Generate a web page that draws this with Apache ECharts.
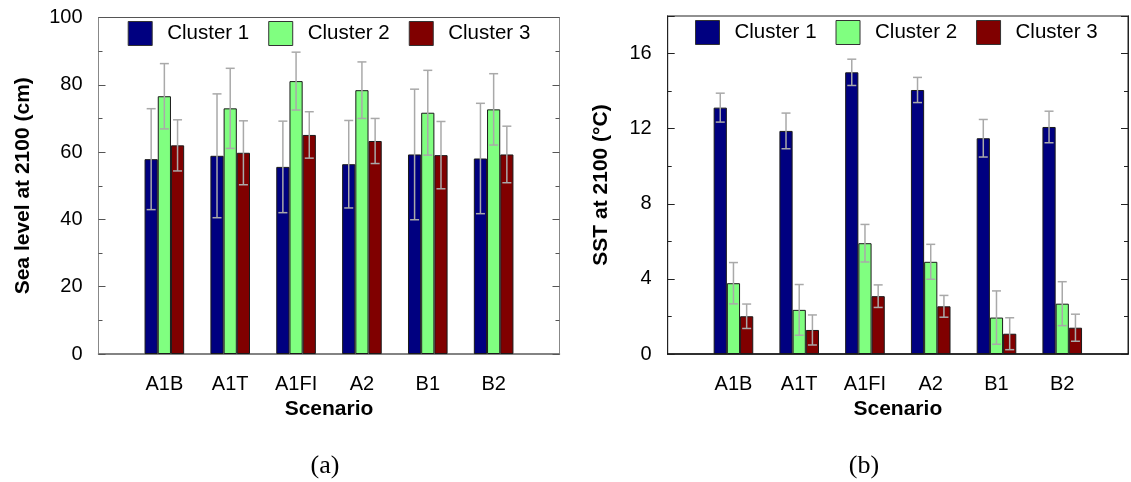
<!DOCTYPE html>
<html><head><meta charset="utf-8">
<script src="https://cdn.jsdelivr.net/npm/echarts@6/dist/echarts.min.js"></script>
<style>html,body{margin:0;padding:0;background:#fff}#c{width:1131px;height:482px}</style>
</head><body><div id="c"></div>
<script>
// ---------- data ----------
const scenarios = ['A1B', 'A1T', 'A1FI', 'A2', 'B1', 'B2'];
const clusterNames = ['Cluster 1', 'Cluster 2', 'Cluster 3'];

const seaLevelMean1 = [57.9, 58.9, 55.6, 56.4, 59.3, 58.1];
const seaLevelErr1  = [15.0, 18.4, 13.6, 13.0, 19.4, 16.4];
const seaLevelMean2 = [76.6, 73.0, 81.1, 78.4, 71.7, 72.7];
const seaLevelErr2  = [9.7, 11.9, 8.6, 8.4, 12.6, 10.6];
const seaLevelMean3 = [62.0, 59.8, 65.1, 63.3, 59.1, 59.3];
const seaLevelErr3  = [7.6, 9.5, 6.9, 6.7, 10.0, 8.4];

const sstMean1 = [13.12, 11.88, 15.0, 14.06, 11.49, 12.09];
const sstErr1  = [0.77, 0.95, 0.7, 0.67, 1.0, 0.84];
const sstMean2 = [3.77, 2.35, 5.9, 4.91, 1.94, 2.68];
const sstErr2  = [1.1, 1.35, 1.0, 0.93, 1.42, 1.17];
const sstMean3 = [2.01, 1.28, 3.08, 2.54, 1.08, 1.40];
const sstErr3  = [0.65, 0.8, 0.6, 0.58, 0.85, 0.72];

const seaLevelTicks = [0, 20, 40, 60, 80, 100];
const sstTicks = [0, 4, 8, 12, 16];

// ---------- styles ----------
const clusterColors = ['#000080', '#80FF80', '#800000'];
const BAR_W = 13.2;
const FONT = '"Liberation Sans", Arial, sans-serif';

const paddedCats = [''].concat(scenarios).concat(['']);
const pad = arr => ['-'].concat(arr).concat(['-']);

function errRender(offset) {
  return function (params, api) {
    const idx = api.value(0);
    const x = api.coord([idx, 0])[0] + offset;
    const lo = api.coord([idx, api.value(1)])[1];
    const hi = api.coord([idx, api.value(2)])[1];
    const cap = 4.5;
    const style = { stroke: '#a9a9a9', lineWidth: 1.5 };
    return {
      type: 'group',
      children: [
        { type: 'line', shape: { x1: x, y1: lo, x2: x, y2: hi }, style: style },
        { type: 'line', shape: { x1: x - cap, y1: hi, x2: x + cap, y2: hi }, style: style },
        { type: 'line', shape: { x1: x - cap, y1: lo, x2: x + cap, y2: lo }, style: style }
      ]
    };
  };
}

function errData(means, errs) {
  return means.map((m, i) => [i + 1, m - errs[i], m + errs[i]]);
}

function makeSeries(panel, means, errs, yIdx) {
  const out = [];
  means.forEach((m, k) => {
    out.push({
      name: clusterNames[k], type: 'bar', xAxisIndex: panel, yAxisIndex: yIdx,
      data: pad(m), barWidth: BAR_W, barGap: '0%',
      itemStyle: { color: clusterColors[k], borderColor: '#1a1a1a', borderWidth: 1 },
      emphasis: { disabled: true }, animation: false
    });
  });
  means.forEach((m, k) => {
    out.push({
      name: 'err' + panel + '-' + k, type: 'custom', xAxisIndex: panel, yAxisIndex: yIdx,
      renderItem: errRender((k - 1) * BAR_W),
      encode: { x: 0, y: [1, 2] },
      data: errData(m, errs[k]), z: 5, animation: false, silent: true
    });
  });
  return out;
}

function yAx(grid, pos, max, interval, tickLen, showLabel, lineColor, tickColor, extra) {
  return Object.assign({
    gridIndex: grid, type: 'value', position: pos, min: 0, max: max, interval: interval,
    axisLine: { show: true, lineStyle: { color: lineColor, width: 1 } },
    axisTick: { show: true, inside: true, length: tickLen, lineStyle: { color: tickColor, width: 1 } },
    splitLine: { show: false },
    axisLabel: { show: showLabel, margin: 16, fontSize: 20, color: '#000', fontFamily: FONT }
  }, extra || {});
}

function xAx(grid, lineColor) {
  return {
    gridIndex: grid, type: 'category', data: paddedCats, boundaryGap: false,
    axisLine: { show: true, lineStyle: { color: lineColor, width: 1.5 } },
    axisTick: { show: false },
    axisLabel: { margin: 20, fontSize: 20, color: '#000', fontFamily: FONT, interval: 0 },
    splitLine: { show: false },
    name: 'Scenario', nameLocation: 'middle', nameGap: 43,
    nameTextStyle: { fontSize: 21, fontWeight: 'bold', color: '#000', fontFamily: FONT }
  };
}

const chart = echarts.init(document.getElementById('c'), null, { renderer: 'canvas' });

const series = []
  .concat(makeSeries(0, [seaLevelMean1, seaLevelMean2, seaLevelMean3], [seaLevelErr1, seaLevelErr2, seaLevelErr3], 0))
  .concat(makeSeries(1, [sstMean1, sstMean2, sstMean3], [sstErr1, sstErr2, sstErr3], 2));

const option = {
  backgroundColor: '#fff',
  animation: false,
  textStyle: { fontFamily: FONT },
  grid: [
    { left: 98.5, top: 17.5, width: 461, height: 336.5, show: true, borderColor: '#555', borderWidth: 1, backgroundColor: 'transparent' },
    { left: 667.7, top: 16, width: 461.6, height: 338, show: true, borderColor: '#222', borderWidth: 1, backgroundColor: 'transparent' }
  ],
  xAxis: [xAx(0, '#777'), xAx(1, '#111')],
  yAxis: [
    yAx(0, 'left', seaLevelTicks[seaLevelTicks.length - 1], seaLevelTicks[1] - seaLevelTicks[0], 7, true, '#888', '#555', {
      minorTick: { show: true, splitNumber: 2, length: 4, lineStyle: { color: '#555' } },
      name: 'Sea level at 2100 (cm)', nameLocation: 'middle', nameGap: 65,
      nameTextStyle: { fontSize: 21, fontWeight: 'bold', color: '#000', fontFamily: FONT }
    }),
    yAx(0, 'right', seaLevelTicks[seaLevelTicks.length - 1], seaLevelTicks[1] - seaLevelTicks[0], 7, false, '#888', '#555', {
      minorTick: { show: true, splitNumber: 2, length: 4, lineStyle: { color: '#555' } }
    }),
    yAx(1, 'left', 18, sstTicks[1] - sstTicks[0], 7, true, '#222', '#222', {
      axisLabel: { show: true, margin: 16, fontSize: 20, color: '#000', fontFamily: FONT,
        formatter: v => (sstTicks.indexOf(v) >= 0 ? String(v) : '') },
      name: 'SST at 2100 (°C)', nameLocation: 'middle', nameGap: 56,
      nameTextStyle: { fontSize: 21, fontWeight: 'bold', color: '#000', fontFamily: FONT }
    }),
    yAx(1, 'left', 18, 2, 4, false, '#222', '#222'),
    yAx(1, 'right', 18, sstTicks[1] - sstTicks[0], 7, false, '#222', '#222'),
    yAx(1, 'right', 18, 2, 4, false, '#222', '#222')
  ],
  legend: [0, 1].map(p => ({
    data: clusterNames, selectedMode: false, icon: 'rect',
    left: p === 0 ? 127.7 : 695, top: p === 0 ? 21 : 20, padding: 0,
    itemWidth: 24, itemHeight: 24, itemGap: 19,
    itemStyle: { borderColor: '#333', borderWidth: 1 },
    textStyle: { fontSize: 20.5, color: '#000', fontFamily: FONT, padding: [0, 0, 0, 10] }
  })),
  graphic: [
    { type: 'text', x: 325, y: 466, style: { text: '(a)', align: 'center', verticalAlign: 'middle', font: '26px "Liberation Serif", "Times New Roman", serif', fill: '#000' } },
    { type: 'text', x: 864, y: 466, style: { text: '(b)', align: 'center', verticalAlign: 'middle', font: '26px "Liberation Serif", "Times New Roman", serif', fill: '#000' } }
  ],
  series: series
};
chart.setOption(option);
</script>
</body></html>
